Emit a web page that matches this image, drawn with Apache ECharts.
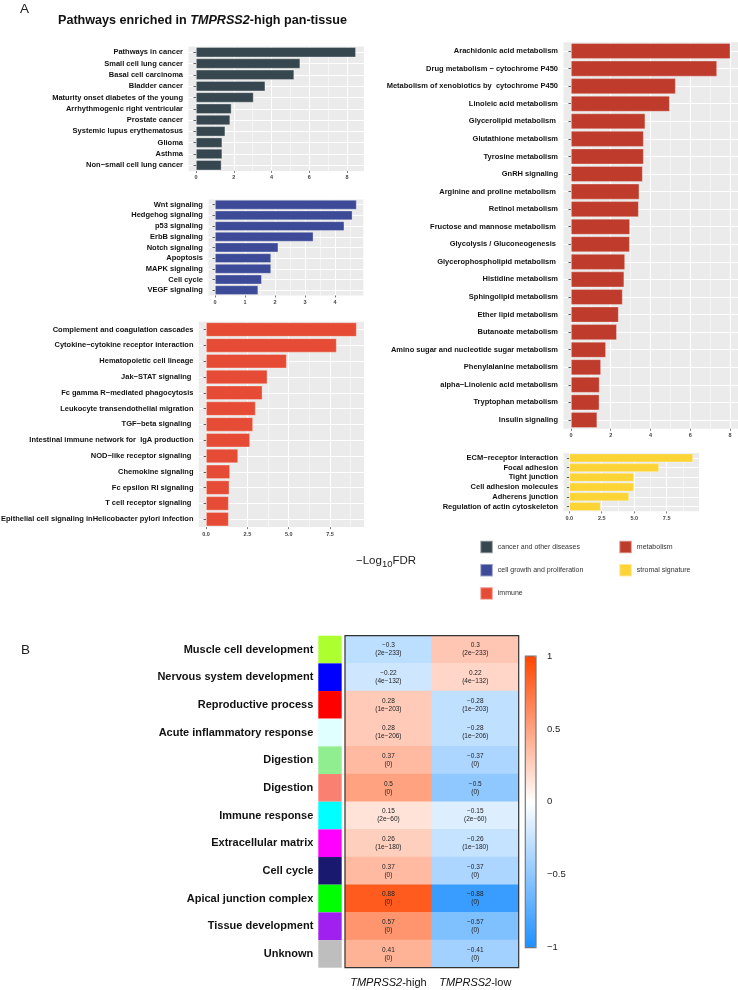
<!DOCTYPE html>
<html><head><meta charset="utf-8">
<script src="https://cdn.jsdelivr.net/npm/echarts@6/dist/echarts.min.js"></script>
<style>html,body{margin:0;padding:0;background:#fff}#c{width:738px;height:990px}</style>
</head><body><div id="c"></div>
<script>
// ---------- DATA ----------
const cancerCats = ['Pathways in cancer','Small cell lung cancer','Basal cell carcinoma','Bladder cancer','Maturity onset diabetes of the young','Arrhythmogenic right ventricular','Prostate cancer','Systemic lupus erythematosus','Glioma','Asthma','Non\u2212small cell lung cancer'];
const cancerVals = [8.47,5.52,5.2,3.67,3.05,1.88,1.81,1.55,1.39,1.39,1.35];

const growthCats = ['Wnt signaling','Hedgehog signaling','p53 signaling','ErbB signaling','Notch signaling','Apoptosis','MAPK signaling','Cell cycle','VEGF signaling'];
const growthVals = [4.72,4.58,4.31,3.28,2.11,1.87,1.87,1.56,1.44];

const immuneCats = ['Complement and coagulation cascades','Cytokine\u2212cytokine receptor interaction','Hematopoietic cell lineage','Jak\u2212STAT signaling ','Fc gamma R\u2212mediated phagocytosis','Leukocyte transendothelial migration','TGF\u2212beta signaling ','Intestinal immune network for  IgA production','NOD\u2212like receptor signaling ','Chemokine signaling','Fc epsilon RI signaling','T cell receptor signaling ','Epithelial cell signaling inHelicobacter pylori infection'];
const immuneVals = [9.11,7.9,4.88,3.71,3.41,3.0,2.84,2.66,1.94,1.45,1.41,1.37,1.37];

const metabCats = ['Arachidonic acid metabolism','Drug metabolism \u2212 cytochrome P450','Metabolism of xenobiotics by  cytochrome P450','Linoleic acid metabolism','Glycerolipid metabolism ','Glutathione metabolism','Tyrosine metabolism','GnRH signaling','Arginine and proline metabolism ','Retinol metabolism','Fructose and mannose metabolism ','Glycolysis / Gluconeogenesis ','Glycerophospholipid metabolism ','Histidine metabolism','Sphingolipid metabolism','Ether lipid metabolism','Butanoate metabolism','Amino sugar and nucleotide sugar metabolism','Phenylalanine metabolism','alpha\u2212Linolenic acid metabolism','Tryptophan metabolism','Insulin signaling'];
const metabVals = [8.02,7.35,5.27,4.97,3.74,3.66,3.66,3.61,3.44,3.41,2.97,2.96,2.72,2.68,2.6,2.4,2.31,1.76,1.51,1.44,1.43,1.32];

const stromalCats = ['ECM\u2212receptor interaction','Focal adhesion','Tight junction','Cell adhesion molecules','Adherens junction','Regulation of actin cytoskeleton'];
const stromalVals = [9.53,6.91,4.98,4.98,4.6,2.42];

const groupNames = ['cancer and other diseases','cell growth and proliferation','immune','metabolism','stromal signature'];

const rowNames = ['Muscle cell development','Nervous system development','Reproductive process','Acute inflammatory response','Digestion','Digestion','Immune response','Extracellular matrix','Cell cycle','Apical junction complex','Tissue development','Unknown'];
const stripVals = [1,1,1,1,1,1,1,1,1,1,1,1];
const colNames = ['TMPRSS2-high','TMPRSS2-low'];
const corrHigh = [-0.3,-0.22,0.28,0.28,0.37,0.5,0.15,0.26,0.37,0.88,0.57,0.41];
const corrLow = [0.3,0.22,-0.28,-0.28,-0.37,-0.5,-0.15,-0.26,-0.37,-0.88,-0.57,-0.41];
const pHigh = ['2e\u2212233','4e\u2212132','1e\u2212203','1e\u2212206','0','0','2e\u221260','1e\u2212180','0','0','0','0'];
const pLow = ['2e\u2212233','4e\u2212132','1e\u2212203','1e\u2212206','0','0','2e\u221260','1e\u2212180','0','0','0','0'];
const colorbarTicks = [-1,-0.5,0,0.5,1];

// ---------- STYLE ----------
const rowColors = ['#ADFF2F','#0000FF','#FF0000','#E0FFFF','#90EE90','#FA8072','#00FFFF','#FF00FF','#191970','#00FF00','#A020F0','#BEBEBE'];
const groupColors = ['#37474F','#3C4A98','#E64B35','#BF3B2C','#FDD435'];
const F = "'Liberation Sans', Arial, Helvetica, sans-serif";

function minusFmt(v){ return v < 0 ? '\u2212' + String(-v) : String(v); }
function tickFmt(major, dec, limit){
  return function(v){
    if (v < -1e-9 || v > limit + 1e-9) return '';
    const k = Math.round(v / major);
    if (Math.abs(v - k * major) > 1e-6) return '';
    return (k * major).toFixed(dec);
  };
}
function majorTicks(major, limit){
  const t = [];
  for (let k = 0; k * major <= limit + 1e-9; k++) t.push(+(k * major).toFixed(4));
  return t;
}

const panels = [
  {cats:cancerCats, vals:cancerVals, major:2, dec:0, box:{left:188, top:46.6, width:175.9, height:124.3}},
  {cats:growthCats, vals:growthVals, major:1, dec:0, box:{left:207.9, top:199.4, width:155.8, height:96.1}},
  {cats:immuneCats, vals:immuneVals, major:2.5, dec:1, box:{left:198.5, top:321.7, width:165.7, height:205.4}},
  {cats:metabCats, vals:metabVals, major:2, dec:0, box:{left:563, top:42.25, width:175.3, height:386.5}},
  {cats:stromalCats, vals:stromalVals, major:2.5, dec:1, box:{left:563.1, top:453.06, width:136.1, height:58.3}}
];

const grid = [], xAxis = [], yAxis = [], series = [];
panels.forEach(function(p, i){
  const M = Math.max.apply(null, p.vals);
  const lo = -0.05 * M, hi = 1.05 * M;
  const tv = majorTicks(p.major, M);
  grid.push(Object.assign({show:true, backgroundColor:'#EBEBEB', borderWidth:0, outerBoundsMode:'none', containLabel:false}, p.box));
  const gi = grid.length - 1;
  xAxis.push({type:'value', gridIndex:gi, min:lo, max:hi, minInterval:p.major, maxInterval:p.major, position:'bottom',
    axisLine:{show:false},
    axisTick:{show:true, length:2, customValues:tv, lineStyle:{color:'#555', width:0.8}},
    axisLabel:{margin:4, fontSize:5.5, fontWeight:'bold', color:'#444', fontFamily:F, customValues:tv, formatter:tickFmt(p.major, p.dec, M)},
    splitLine:{show:true, lineStyle:{color:'#FFFFFF', width:1.1}}});
  const xi = xAxis.length - 1;
  xAxis.push({type:'value', gridIndex:gi, min:lo, max:hi, minInterval:p.major/2, maxInterval:p.major/2, position:'top',
    axisLine:{show:false}, axisTick:{show:false}, axisLabel:{show:false},
    splitLine:{show:true, lineStyle:{color:'#FFFFFF', width:0.5}}});
  yAxis.push({type:'category', gridIndex:gi, data:p.cats, inverse:true,
    axisLine:{show:false},
    axisTick:{show:true, alignWithLabel:true, length:2.5, lineStyle:{color:'#333', width:0.8}},
    axisLabel:{interval:0, margin:5, fontSize:7.5, fontWeight:'bold', color:'#111', fontFamily:F},
    splitLine:{show:true, alignWithLabel:true, interval:0, lineStyle:{color:'#FFFFFF', width:1.1}}});
  series.push({type:'bar', name:groupNames[i], xAxisIndex:xi, yAxisIndex:yAxis.length - 1, data:p.vals,
    barCategoryGap:'10%', itemStyle:{color:groupColors[i], borderColor:'rgba(255,255,255,0.45)', borderWidth:0.7},
    emphasis:{disabled:true}, silent:true});
});

// annotation strip
grid.push({left:318.3, top:635.7, width:23.4, height:332, outerBoundsMode:'none'});
const stripGrid = grid.length - 1;
xAxis.push({type:'value', gridIndex:stripGrid, min:0, max:1, show:false});
const stripX = xAxis.length - 1;
yAxis.push({type:'category', gridIndex:stripGrid, data:rowNames, inverse:true,
  axisLine:{show:false}, axisTick:{show:false},
  axisLabel:{interval:0, margin:5, fontSize:11, fontWeight:'bold', color:'#111', fontFamily:F}});
const stripY = yAxis.length - 1;
series.push({type:'bar', xAxisIndex:stripX, yAxisIndex:stripY, barWidth:'100%', barCategoryGap:'0%', silent:true,
  data:stripVals.map(function(v, i){ return {value:v, itemStyle:{color:rowColors[i]}}; })});

// heatmap
grid.push({left:345, top:635.7, width:173.7, height:332, outerBoundsMode:'none'});
const hmGrid = grid.length - 1;
xAxis.push({type:'category', gridIndex:hmGrid, data:colNames, position:'bottom',
  axisLine:{show:false}, axisTick:{show:false},
  axisLabel:{interval:0, hideOverlap:false, margin:10, formatter:function(v){ return '{i|TMPRSS2}{n|' + v.slice(7) + '}'; },
    rich:{i:{fontSize:11, fontStyle:'italic', color:'#111', fontFamily:F}, n:{fontSize:11, color:'#111', fontFamily:F}}}});
const hmX = xAxis.length - 1;
yAxis.push({type:'category', gridIndex:hmGrid, data:rowNames, inverse:true, show:false});
const hmY = yAxis.length - 1;
const hmData = [];
rowNames.forEach(function(r, i){ hmData.push([0, i, corrHigh[i]]); hmData.push([1, i, corrLow[i]]); });
series.push({type:'heatmap', xAxisIndex:hmX, yAxisIndex:hmY, data:hmData, silent:true,
  label:{show:true, fontSize:6.5, lineHeight:8.3, color:'#222', fontFamily:F,
    formatter:function(p){ const ps = p.value[0] === 0 ? pHigh : pLow; return minusFmt(p.value[2]) + '\n(' + ps[p.value[1]] + ')'; }},
  emphasis:{disabled:true}});
const hmSeries = series.length - 1;

// colorbar axis
grid.push({left:525.3, top:656, width:10.7, height:291.7, outerBoundsMode:'none'});
const cbGrid = grid.length - 1;
xAxis.push({type:'value', gridIndex:cbGrid, min:0, max:1, show:false});
yAxis.push({type:'value', gridIndex:cbGrid, min:-1, max:1, interval:0.5, position:'right',
  axisLine:{show:false}, splitLine:{show:false},
  axisTick:{show:true, length:6.5, customValues:colorbarTicks, lineStyle:{color:'#666', width:1}},
  axisLabel:{margin:11, fontSize:9.5, color:'#222', fontFamily:F, customValues:colorbarTicks, formatter:function(v){ return minusFmt(v); }}});

const option = {
  backgroundColor:'#FFFFFF',
  animation:false,
  title:[
    {text:'A', left:20, top:2, padding:0, textStyle:{fontSize:13.5, fontWeight:'normal', color:'#222', fontFamily:F}},
    {text:'{a|Pathways enriched in }{b|TMPRSS2}{a|-high pan-tissue}', left:58, top:14.4, padding:0,
      textStyle:{rich:{a:{fontSize:12.6, fontWeight:'bold', color:'#111', fontFamily:F}, b:{fontSize:12.6, fontWeight:'bold', fontStyle:'italic', color:'#111', fontFamily:F}}}},
    {text:'B', left:21, top:643, padding:0, textStyle:{fontSize:13.5, fontWeight:'normal', color:'#222', fontFamily:F}},
    {text:'{n|\u2212Log}{s|10}{n|FDR}', left:356, top:553, padding:0,
      textStyle:{fontWeight:'normal', rich:{n:{fontSize:11.5, fontWeight:'normal', color:'#222', fontFamily:F}, s:{fontSize:9.5, fontWeight:'normal', color:'#222', fontFamily:F, padding:[6,0,0,0]}}}}
  ],
  legend:[
    {data:[groupNames[0], groupNames[1], groupNames[2]], orient:'vertical', left:479.3, top:539.75, padding:0,
      itemWidth:12.5, itemHeight:12.5, itemGap:8.7, icon:'rect', selectedMode:false,
      textStyle:{fontSize:7, color:'#333', fontFamily:F}},
    {data:[groupNames[3], groupNames[4]], orient:'vertical', left:618.3, top:539.75, padding:0,
      itemWidth:12.5, itemHeight:12.5, itemGap:8.7, icon:'rect', selectedMode:false,
      textStyle:{fontSize:7, color:'#333', fontFamily:F}}
  ],
  visualMap:{type:'continuous', min:-1, max:1, seriesIndex:hmSeries, dimension:2,
    inRange:{color:['#1E90FF','#FFFFFF','#FF4500']}, orient:'vertical', left:525.3, top:656,
    itemWidth:10.7, itemHeight:291.7, calculable:false, padding:0, hoverLink:false, show:true},
  grid:grid, xAxis:xAxis, yAxis:yAxis, series:series,
  graphic:[
    {type:'rect', shape:{x:345, y:635.7, width:173.7, height:332}, style:{fill:'transparent', stroke:'#333', lineWidth:1.2}, z:100, silent:true},
    {type:'rect', shape:{x:525.3, y:656, width:10.7, height:291.7}, style:{fill:'transparent', stroke:'#777', lineWidth:1.2}, z:100, silent:true}
  ]
};
const chart = echarts.init(document.getElementById('c'));
chart.setOption(option);
</script>
</body></html>
